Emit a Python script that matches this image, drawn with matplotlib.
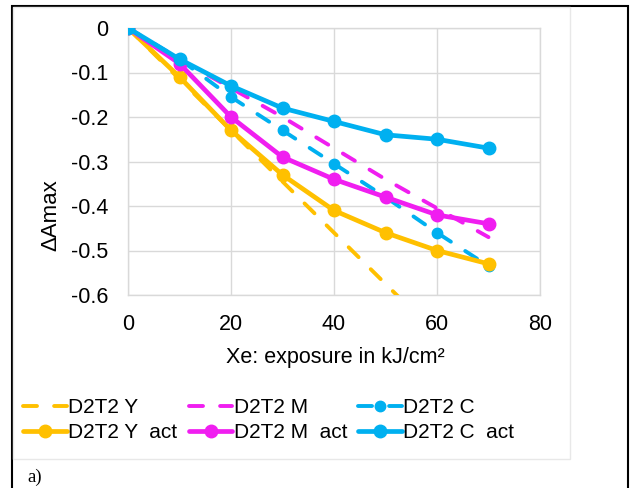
import matplotlib
matplotlib.use("Agg")
import matplotlib.pyplot as plt
from matplotlib.patches import Rectangle

x = [0, 10, 20, 30, 40, 50, 60, 70]
y_pred = [0, -0.115, -0.23, -0.345, -0.46, -0.575, -0.69, -0.805]
m_pred = [0, -0.07, -0.135, -0.20, -0.27, -0.34, -0.405, -0.47]
c_pred = [0, -0.07, -0.155, -0.23, -0.305, -0.38, -0.46, -0.535]
y_act = [0, -0.11, -0.23, -0.33, -0.41, -0.46, -0.50, -0.53]
m_act = [0, -0.08, -0.20, -0.29, -0.34, -0.38, -0.42, -0.44]
c_act = [0, -0.07, -0.13, -0.18, -0.21, -0.24, -0.25, -0.27]
labels = ["D2T2 Y", "D2T2 Y  act", "D2T2 M", "D2T2 M  act", "D2T2 C", "D2T2 C  act"]
xticks = [0, 20, 40, 60, 80]
yticks = [0, -0.1, -0.2, -0.3, -0.4, -0.5, -0.6]
yticklabels = ["0", "-0.1", "-0.2", "-0.3", "-0.4", "-0.5", "-0.6"]

ORANGE = "#FFC000"
MAGENTA = "#F01EF0"
CYAN = "#00B0F0"

plt.rcParams['font.family'] = ['Liberation Sans', 'DejaVu Sans']

fig = plt.figure(figsize=(6.32, 4.88), dpi=100)
W, H = 632, 488

# outer black frame
fig.patches.append(Rectangle((12 / W, -0.05), (628 - 12) / W, (488 - 6) / H + 0.05,
                             transform=fig.transFigure, fill=False, edgecolor="black", lw=1.5))
# chart area outline (light gray)
fig.patches.append(Rectangle((13 / W, 1 - 459 / H), (570 - 13) / W, (459 - 7) / H,
                             transform=fig.transFigure, fill=False, edgecolor="#E8E8E8", lw=1))

ax = fig.add_axes([128 / W, 1 - 295 / H, (540 - 128) / W, (295 - 28) / H])

dash = (3.6, 4.4)
kw_d = dict(lw=2.8, dashes=dash, dash_capstyle="round", zorder=3)
h1, = ax.plot(x, y_pred, color=ORANGE, **kw_d)
h3, = ax.plot(x, m_pred, color=MAGENTA, **kw_d)
h5, = ax.plot(x, c_pred, color=CYAN, marker="o", markersize=7.5, **kw_d)
kw_a = dict(lw=3.4, marker="o", markersize=9, solid_capstyle="round")
h2, = ax.plot(x, y_act, color=ORANGE, zorder=4, **kw_a)
h4, = ax.plot(x, m_act, color=MAGENTA, zorder=4, **kw_a)
h6, = ax.plot(x, c_act, color=CYAN, zorder=5, **kw_a)

ax.set_xlim(0, 80)
ax.set_ylim(-0.6, 0)
ax.set_xticks(xticks)
ax.set_yticks(yticks)
ax.set_xticklabels([str(t) for t in xticks])
ax.set_yticklabels(yticklabels)
ax.tick_params(axis="x", length=0, labelsize=15.5, pad=14)
ax.tick_params(axis="y", length=0, labelsize=15.5, pad=14)
ax.grid(True, color="#D9D9D9", lw=1)
ax.set_axisbelow(True)
for s in ax.spines.values():
    s.set_color("#D9D9D9")
    s.set_linewidth(1)

fig.text(335 / W, 1 - 357 / H, "Xe: exposure in kJ/cm²", fontsize=15.5,
         ha="center", va="center")
fig.text(51 / W, 1 - 215 / H, "ΔAmax", fontsize=16, rotation=90,
         ha="center", va="center")

handles = [h1, h2, h3, h4, h5, h6]
leg = fig.legend(handles, labels, ncol=3, loc="upper left",
                 bbox_to_anchor=(15 / W, 1 - 390 / H), frameon=False,
                 fontsize=15, handlelength=2.1, handletextpad=0.05,
                 columnspacing=0.55, labelspacing=0.28, borderaxespad=0)

fig.text(27 / W, 1 - 477 / H, "a)", fontsize=13.5, family="Liberation Serif", va="center")

fig.savefig("out.png", dpi=100)
